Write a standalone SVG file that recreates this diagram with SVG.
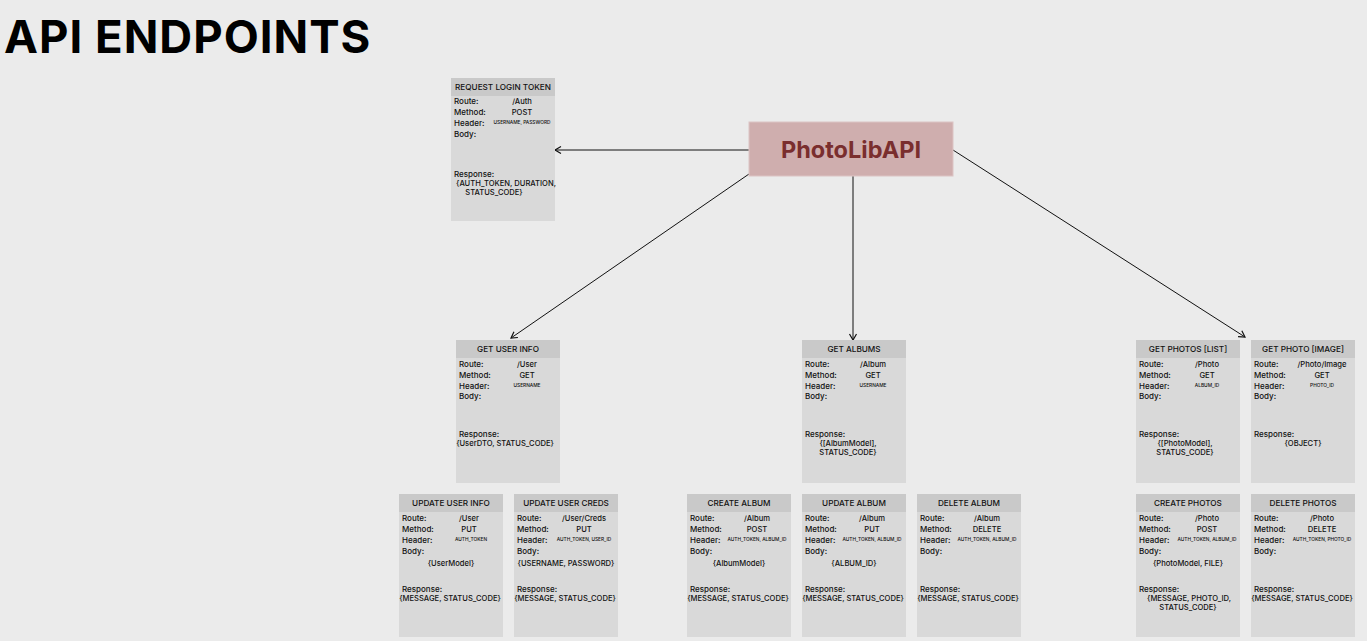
<svg xmlns="http://www.w3.org/2000/svg" width="1367" height="641" viewBox="0 0 1367 641">
<style>
text{font-family:Inter,"Liberation Sans",Arial,sans-serif;fill:#111;}
.card{fill:#d9d9d9;}
.hd{fill:#c9c9c9;}
.t{font-size:8.2px;font-weight:500;text-anchor:middle;}
.l{font-size:8px;font-weight:500;}
.v{font-size:7.6px;font-weight:500;text-anchor:middle;}
.s{font-size:4.8px;font-weight:500;text-anchor:middle;}
.c{fill:none;stroke:#111;stroke-width:1;}
</style>
<defs>
<marker id="ah" markerWidth="10" markerHeight="10" refX="8" refY="5" orient="auto" markerUnits="userSpaceOnUse">
<path d="M2,1.5 L8,5 L2,8.5" fill="none" stroke="#111" stroke-width="1.2"/>
</marker>
</defs>
<rect width="1367" height="641" fill="#ebebeb"/>
<text x="4" y="53" style="font-size:45.5px;font-weight:700;letter-spacing:1px;fill:#000">API ENDPOINTS</text>

<g id="connectors">
<line class="c" x1="749" y1="150" x2="555" y2="150" marker-end="url(#ah)"/>
<line class="c" x1="749" y1="174" x2="511" y2="338" marker-end="url(#ah)"/>
<line class="c" x1="853" y1="176" x2="853" y2="340" marker-end="url(#ah)"/>
<line class="c" x1="953" y1="150" x2="1245" y2="337" marker-end="url(#ah)"/>
</g>

<g id="photolibapi">
<rect x="749" y="122" width="204" height="54" fill="#cfaeae" stroke="#dcc4c4" stroke-width="1"/>
<text x="851" y="158" style="font-size:23.5px;font-weight:700;fill:#7a2e2e;text-anchor:middle">PhotoLibAPI</text>
</g>

<g id="request-login-token" transform="translate(451,78)">
<rect class="card" width="104" height="143"/><rect class="hd" width="104" height="18"/>
<text class="t" x="52" y="12">REQUEST LOGIN TOKEN</text>
<text class="l" x="3" y="26">Route:</text><text class="v" x="71" y="26">/Auth</text>
<text class="l" x="3" y="37">Method:</text><text class="v" x="71" y="37">POST</text>
<text class="l" x="3" y="48">Header:</text><text class="s" x="71" y="46">USERNAME, PASSWORD</text>
<text class="l" x="3" y="59">Body:</text>
<text class="l" x="3" y="99">Response:</text>
<text class="v" x="55" y="108">{AUTH_TOKEN, DURATION,</text>
<text class="v" x="43" y="117">STATUS_CODE}</text>
</g>

<g id="get-user-info" transform="translate(456,340)">
<rect class="card" width="104" height="143"/><rect class="hd" width="104" height="18"/>
<text class="t" x="52" y="12">GET USER INFO</text>
<text class="l" x="3" y="27">Route:</text><text class="v" x="71" y="27">/User</text>
<text class="l" x="3" y="38">Method:</text><text class="v" x="71" y="38">GET</text>
<text class="l" x="3" y="49">Header:</text><text class="s" x="71" y="47">USERNAME</text>
<text class="l" x="3" y="59">Body:</text>
<text class="l" x="3" y="97">Response:</text>
<text class="v" x="49" y="106">{UserDTO, STATUS_CODE}</text>
</g>

<g id="get-albums" transform="translate(802,340)">
<rect class="card" width="104" height="143"/><rect class="hd" width="104" height="18"/>
<text class="t" x="52" y="12">GET ALBUMS</text>
<text class="l" x="3" y="27">Route:</text><text class="v" x="71" y="27">/Album</text>
<text class="l" x="3" y="38">Method:</text><text class="v" x="71" y="38">GET</text>
<text class="l" x="3" y="49">Header:</text><text class="s" x="71" y="47">USERNAME</text>
<text class="l" x="3" y="59">Body:</text>
<text class="l" x="3" y="97">Response:</text>
<text class="v" x="46" y="106">{[AlbumModel],</text>
<text class="v" x="46" y="115">STATUS_CODE}</text>
</g>

<g id="get-photos-list" transform="translate(1136,340)">
<rect class="card" width="104" height="143"/><rect class="hd" width="104" height="18"/>
<text class="t" x="52" y="12">GET PHOTOS [LIST]</text>
<text class="l" x="3" y="27">Route:</text><text class="v" x="71" y="27">/Photo</text>
<text class="l" x="3" y="38">Method:</text><text class="v" x="71" y="38">GET</text>
<text class="l" x="3" y="49">Header:</text><text class="s" x="71" y="47">ALBUM_ID</text>
<text class="l" x="3" y="59">Body:</text>
<text class="l" x="3" y="97">Response:</text>
<text class="v" x="49" y="106">{[PhotoModel],</text>
<text class="v" x="49" y="115">STATUS_CODE}</text>
</g>

<g id="get-photo-image" transform="translate(1251,340)">
<rect class="card" width="104" height="143"/><rect class="hd" width="104" height="18"/>
<text class="t" x="52" y="12">GET PHOTO [IMAGE]</text>
<text class="l" x="3" y="27">Route:</text><text class="v" x="71" y="27">/Photo/Image</text>
<text class="l" x="3" y="38">Method:</text><text class="v" x="71" y="38">GET</text>
<text class="l" x="3" y="49">Header:</text><text class="s" x="71" y="47">PHOTO_ID</text>
<text class="l" x="3" y="59">Body:</text>
<text class="l" x="3" y="97">Response:</text>
<text class="v" x="52" y="106">{OBJECT}</text>
</g>

<g id="update-user-info" transform="translate(399,494)">
<rect class="card" width="104" height="143"/><rect class="hd" width="104" height="18"/>
<text class="t" x="52" y="12">UPDATE USER INFO</text>
<text class="l" x="3" y="27">Route:</text><text class="v" x="70" y="27">/User</text>
<text class="l" x="3" y="38">Method:</text><text class="v" x="70" y="38">PUT</text>
<text class="l" x="3" y="49">Header:</text><text class="s" x="72" y="47">AUTH_TOKEN</text>
<text class="l" x="3" y="60">Body:</text>
<text class="v" x="52" y="72">{UserModel}</text>
<text class="l" x="3" y="98">Response:</text>
<text class="v" x="51" y="107">{MESSAGE, STATUS_CODE}</text>
</g>

<g id="update-user-creds" transform="translate(514,494)">
<rect class="card" width="104" height="143"/><rect class="hd" width="104" height="18"/>
<text class="t" x="52" y="12">UPDATE USER CREDS</text>
<text class="l" x="3" y="27">Route:</text><text class="v" x="70" y="27">/User/Creds</text>
<text class="l" x="3" y="38">Method:</text><text class="v" x="70" y="38">PUT</text>
<text class="l" x="3" y="49">Header:</text><text class="s" x="70" y="47">AUTH_TOKEN, USER_ID</text>
<text class="l" x="3" y="60">Body:</text>
<text class="v" x="52" y="72">{USERNAME, PASSWORD}</text>
<text class="l" x="3" y="98">Response:</text>
<text class="v" x="51" y="107">{MESSAGE, STATUS_CODE}</text>
</g>

<g id="create-album" transform="translate(687,494)">
<rect class="card" width="104" height="143"/><rect class="hd" width="104" height="18"/>
<text class="t" x="52" y="12">CREATE ALBUM</text>
<text class="l" x="3" y="27">Route:</text><text class="v" x="70" y="27">/Album</text>
<text class="l" x="3" y="38">Method:</text><text class="v" x="70" y="38">POST</text>
<text class="l" x="3" y="49">Header:</text><text class="s" x="70" y="47">AUTH_TOKEN, ALBUM_ID</text>
<text class="l" x="3" y="60">Body:</text>
<text class="v" x="52" y="72">{AlbumModel}</text>
<text class="l" x="3" y="98">Response:</text>
<text class="v" x="51" y="107">{MESSAGE, STATUS_CODE}</text>
</g>

<g id="update-album" transform="translate(802,494)">
<rect class="card" width="104" height="143"/><rect class="hd" width="104" height="18"/>
<text class="t" x="52" y="12">UPDATE ALBUM</text>
<text class="l" x="3" y="27">Route:</text><text class="v" x="70" y="27">/Album</text>
<text class="l" x="3" y="38">Method:</text><text class="v" x="70" y="38">PUT</text>
<text class="l" x="3" y="49">Header:</text><text class="s" x="70" y="47">AUTH_TOKEN, ALBUM_ID</text>
<text class="l" x="3" y="60">Body:</text>
<text class="v" x="52" y="72">{ALBUM_ID}</text>
<text class="l" x="3" y="98">Response:</text>
<text class="v" x="51" y="107">{MESSAGE, STATUS_CODE}</text>
</g>

<g id="delete-album" transform="translate(917,494)">
<rect class="card" width="104" height="143"/><rect class="hd" width="104" height="18"/>
<text class="t" x="52" y="12">DELETE ALBUM</text>
<text class="l" x="3" y="27">Route:</text><text class="v" x="70" y="27">/Album</text>
<text class="l" x="3" y="38">Method:</text><text class="v" x="70" y="38">DELETE</text>
<text class="l" x="3" y="49">Header:</text><text class="s" x="70" y="47">AUTH_TOKEN, ALBUM_ID</text>
<text class="l" x="3" y="60">Body:</text>
<text class="l" x="3" y="98">Response:</text>
<text class="v" x="51" y="107">{MESSAGE, STATUS_CODE}</text>
</g>

<g id="create-photos" transform="translate(1136,494)">
<rect class="card" width="104" height="143"/><rect class="hd" width="104" height="18"/>
<text class="t" x="52" y="12">CREATE PHOTOS</text>
<text class="l" x="3" y="27">Route:</text><text class="v" x="71" y="27">/Photo</text>
<text class="l" x="3" y="38">Method:</text><text class="v" x="71" y="38">POST</text>
<text class="l" x="3" y="49">Header:</text><text class="s" x="71" y="47">AUTH_TOKEN, ALBUM_ID</text>
<text class="l" x="3" y="60">Body:</text>
<text class="v" x="52" y="72">{PhotoModel, FILE}</text>
<text class="l" x="3" y="98">Response:</text>
<text class="v" x="53" y="107">{MESSAGE, PHOTO_ID,</text>
<text class="v" x="52" y="116">STATUS_CODE}</text>
</g>

<g id="delete-photos" transform="translate(1251,494)">
<rect class="card" width="104" height="143"/><rect class="hd" width="104" height="18"/>
<text class="t" x="52" y="12">DELETE PHOTOS</text>
<text class="l" x="3" y="27">Route:</text><text class="v" x="71" y="27">/Photo</text>
<text class="l" x="3" y="38">Method:</text><text class="v" x="71" y="38">DELETE</text>
<text class="l" x="3" y="49">Header:</text><text class="s" x="71" y="47">AUTH_TOKEN, PHOTO_ID</text>
<text class="l" x="3" y="60">Body:</text>
<text class="l" x="3" y="98">Response:</text>
<text class="v" x="51" y="107">{MESSAGE, STATUS_CODE}</text>
</g>
</svg>
